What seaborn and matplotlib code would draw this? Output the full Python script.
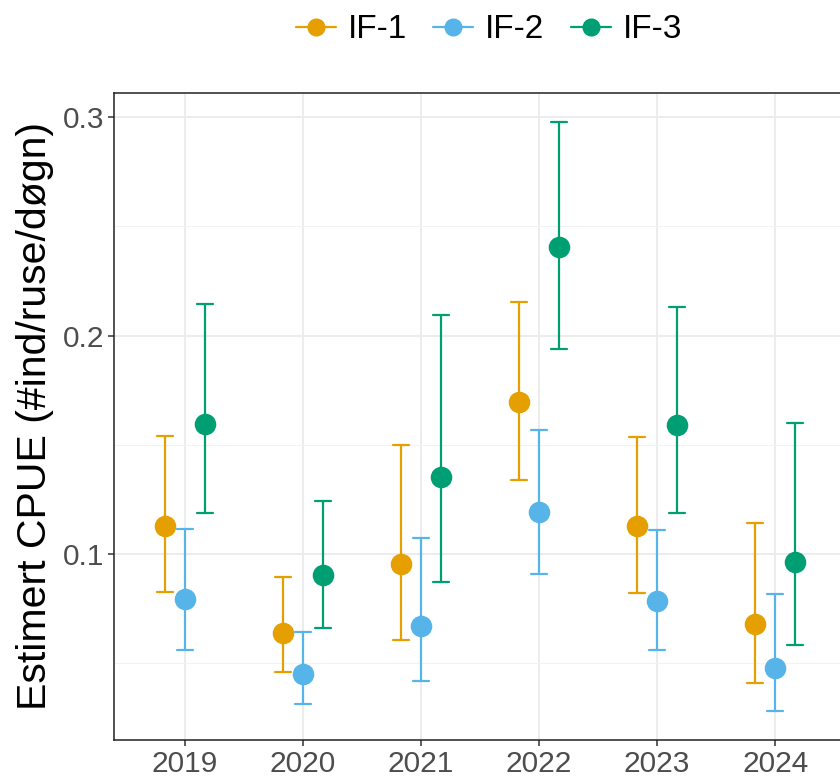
import pandas as pd
import numpy as np
import matplotlib
matplotlib.use("Agg")
import matplotlib.pyplot as plt
from matplotlib.lines import Line2D
from matplotlib.ticker import MultipleLocator
import seaborn as sns

years = ['2019', '2020', '2021', '2022', '2023', '2024']
groups = ['IF-1', 'IF-2', 'IF-3']
colors = ['#E69F00', '#56B4E9', '#009E73']

if1_est = [0.1127, 0.0640, 0.0956, 0.1698, 0.1127, 0.0682]
if1_lo = [0.0826, 0.0459, 0.0608, 0.1338, 0.0822, 0.0408]
if1_hi = [0.1543, 0.0893, 0.1500, 0.2154, 0.1537, 0.1144]

if2_est = [0.0794, 0.0449, 0.0671, 0.1194, 0.0787, 0.0480]
if2_lo = [0.0562, 0.0313, 0.0417, 0.0908, 0.0562, 0.0280]
if2_hi = [0.1113, 0.0642, 0.1073, 0.1566, 0.1109, 0.0816]

if3_est = [0.1597, 0.0905, 0.1353, 0.2404, 0.1593, 0.0966]
if3_lo = [0.1188, 0.0660, 0.0874, 0.1937, 0.1187, 0.0583]
if3_hi = [0.2147, 0.1245, 0.2096, 0.2977, 0.2133, 0.1598]

# long table: lo / est / hi per group+year, median -> est, full range -> CI
rows = []
for g, est, lo, hi in zip(groups, [if1_est, if2_est, if3_est],
                          [if1_lo, if2_lo, if3_lo], [if1_hi, if2_hi, if3_hi]):
    for i, y in enumerate(years):
        for v in (lo[i], est[i], hi[i]):
            rows.append({'year': y, 'group': g, 'cpue': v})
df = pd.DataFrame(rows)

sns.set_theme(style="white")
plt.rcParams['font.family'] = ['Liberation Sans', 'DejaVu Sans']

fig = plt.figure(figsize=(8.4, 7.78), dpi=100)
ax = fig.add_axes([114/840, 1-740/778, 732/840, (740-93)/778])

sns.pointplot(data=df, x='year', y='cpue', hue='group', order=years,
              hue_order=groups, palette=colors, estimator='median',
              errorbar=('pi', 100), dodge=0.34, linestyle='none',
              markers='o', capsize=0.133, markersize=13.5,
              err_kws={'linewidth': 1.6}, legend=False, ax=ax)

ax.set_xlim(-0.6, 5.6)
ax.set_ylim(0.0149, 0.3111)
ax.yaxis.set_major_locator(MultipleLocator(0.1))
ax.yaxis.set_minor_locator(MultipleLocator(0.05))
ax.set_yticks([0.1, 0.2, 0.3])
ax.set_yticklabels(['0.1', '0.2', '0.3'])
ax.grid(True, which='major', color='#EBEBEB', linewidth=1.3)
ax.grid(True, which='minor', axis='y', color='#F2F2F2', linewidth=0.8)
ax.set_axisbelow(True)
for s in ax.spines.values():
    s.set_color('#222222')
    s.set_linewidth(1.1)
ax.tick_params(axis='both', which='major', labelsize=21.5, colors='#333333',
               labelcolor='#4D4D4D', length=4, width=1.1, direction='out',
               left=True, bottom=True, pad=3)
ax.tick_params(axis='y', which='minor', left=False)
ax.set_xlabel('')
ax.set_ylabel('Estimert CPUE (#ind/ruse/døgn)', fontsize=29.5, color='black',
              labelpad=6)

handles = [Line2D([0], [0], color=c, marker='o', markersize=12, linewidth=1.6)
           for c in colors]
fig.legend(handles, groups, loc='center', bbox_to_anchor=(489/840, 1-30/778),
           ncol=3, frameon=False, fontsize=24, handlelength=1.2,
           handletextpad=0.35, columnspacing=0.8, labelcolor='black')

fig.savefig('out.png', dpi=100)
